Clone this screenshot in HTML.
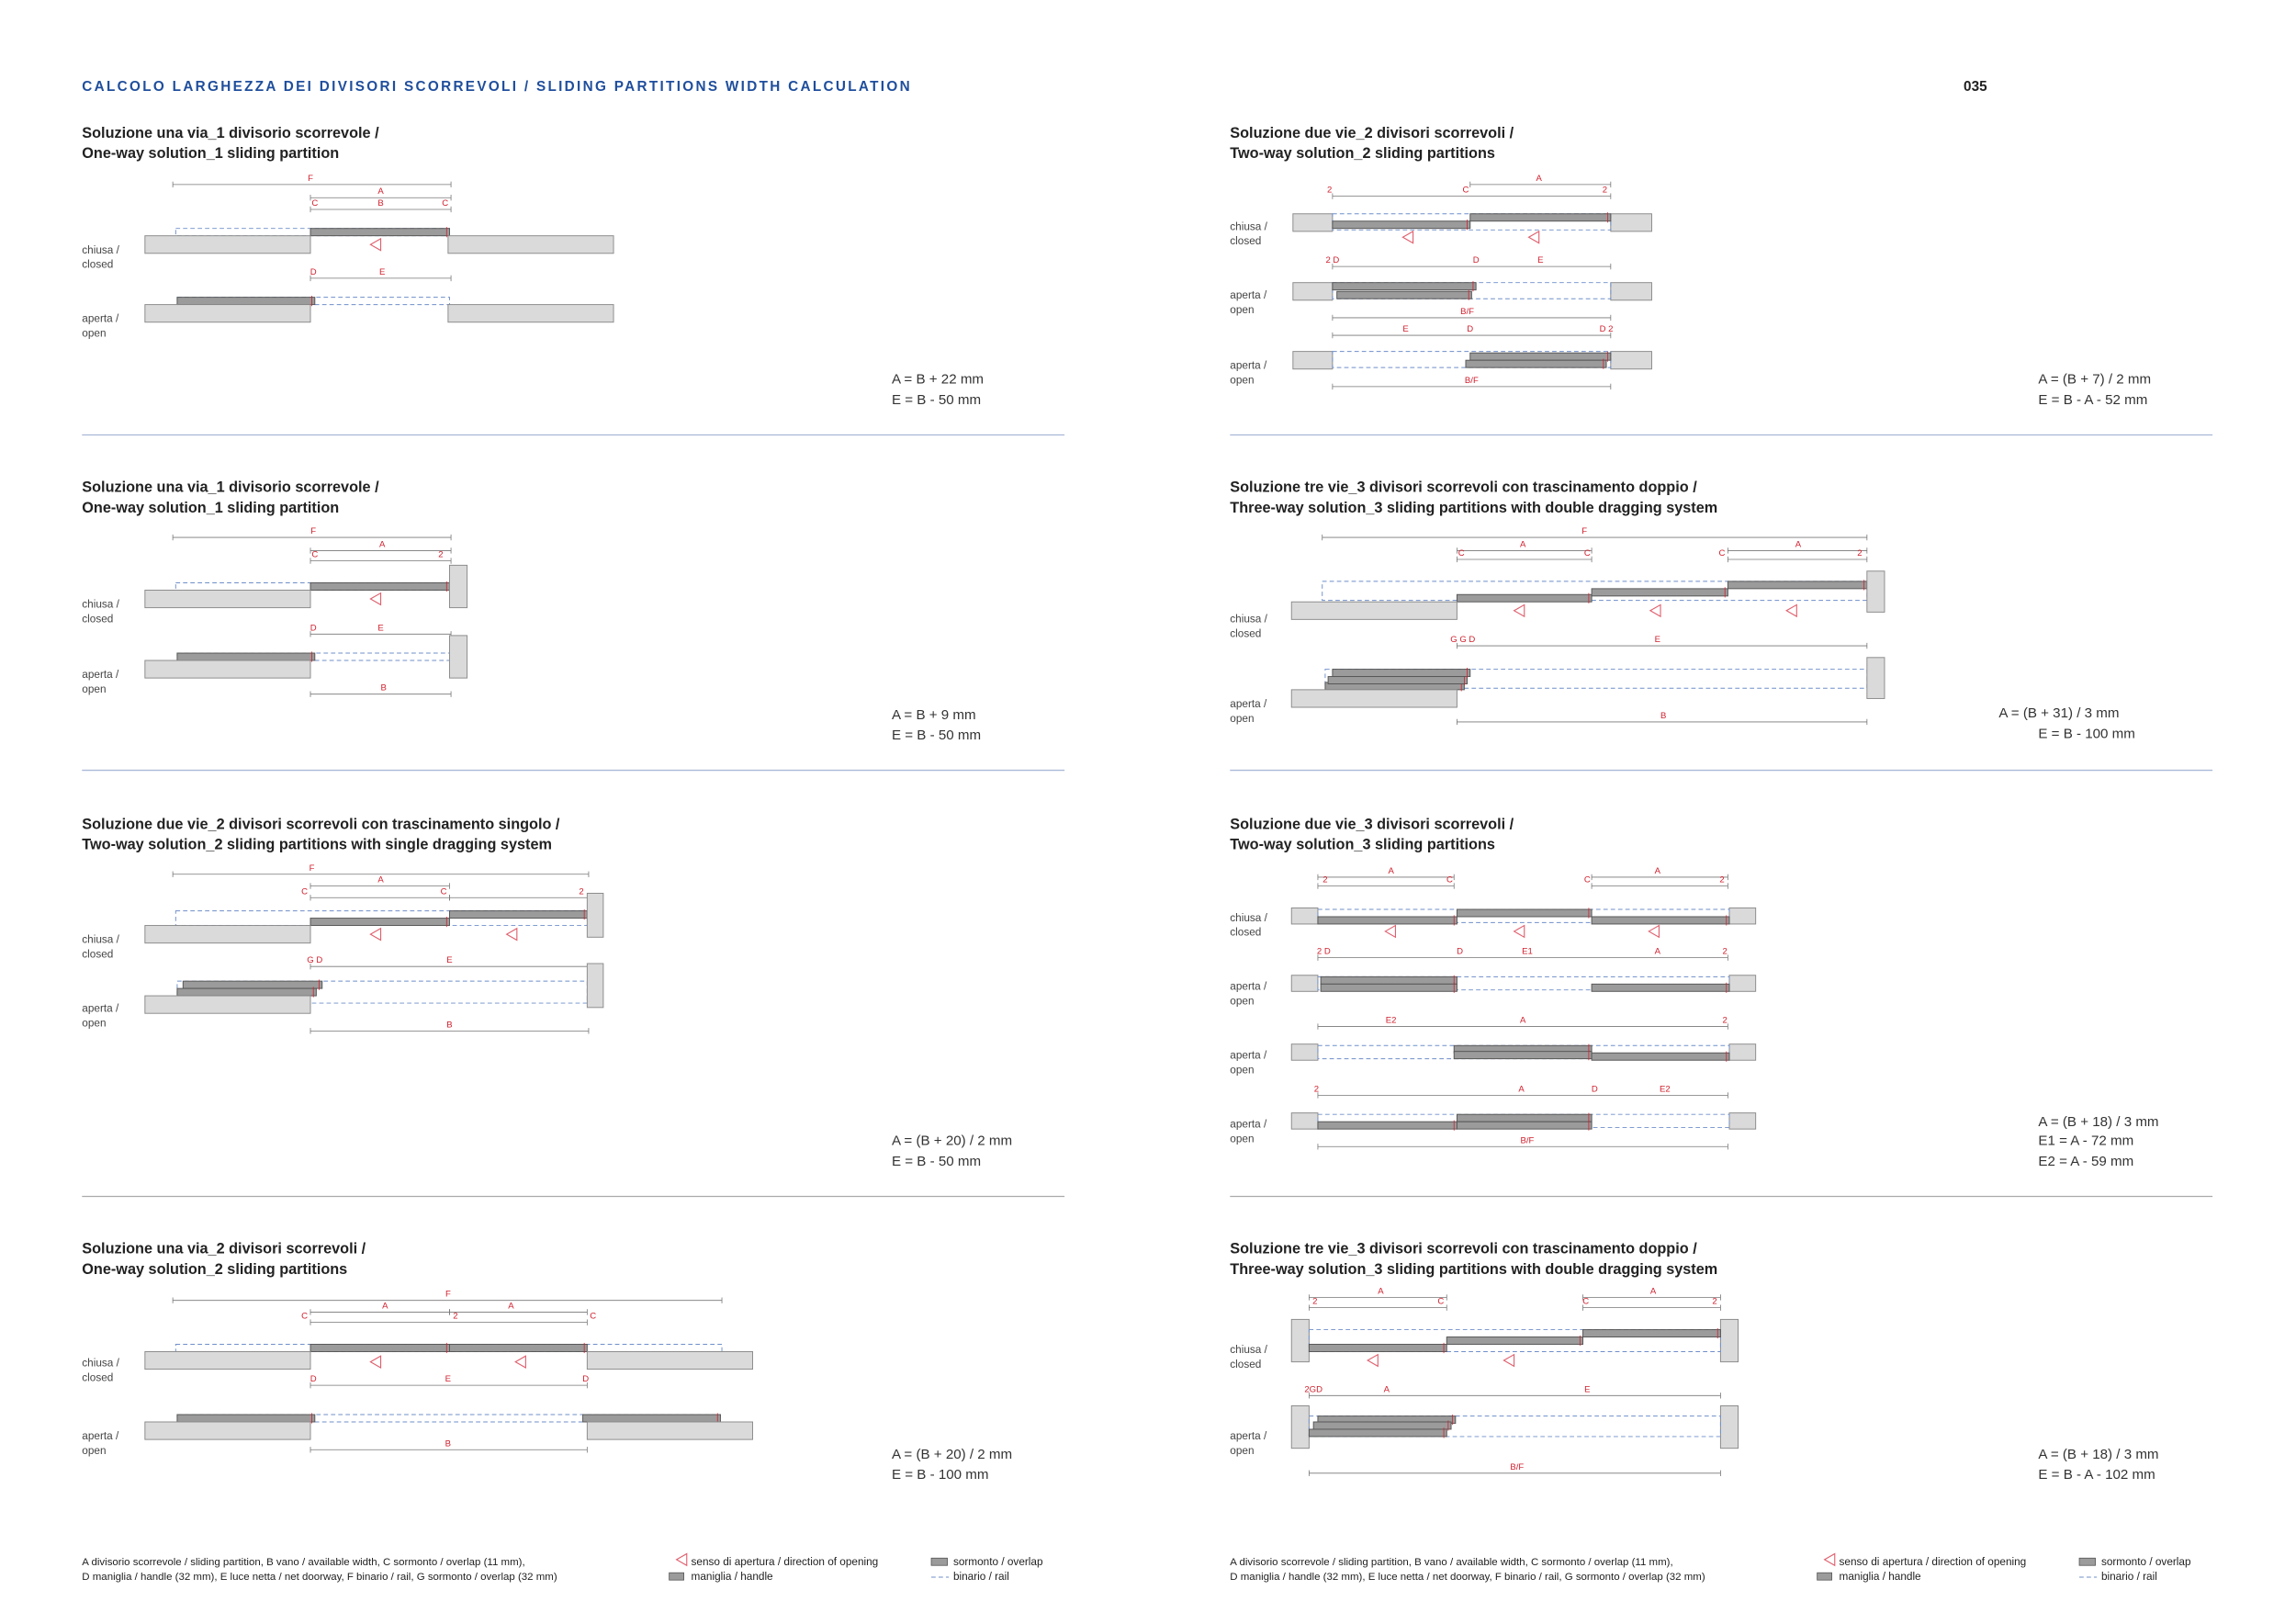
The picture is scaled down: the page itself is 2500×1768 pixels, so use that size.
<!DOCTYPE html>
<html><head><meta charset="utf-8">
<style>
html,body{margin:0;padding:0;background:#fff;}
svg{display:block;font-family:"Liberation Sans",sans-serif;}
.ti{font-size:10.2px;font-weight:bold;fill:#222;}
.lb{font-size:7.4px;fill:#444;}
.dl{font-size:6px;fill:#d0202e;}
.fm{font-size:9.5px;fill:#333;}
.ft{font-size:7.2px;fill:#222;}
.ft2{font-size:7.4px;fill:#222;}
</style></head>
<body>
<svg id="pg" width="2500" height="1768" viewBox="0 0 1568 1109" preserveAspectRatio="none" xmlns="http://www.w3.org/2000/svg">
<text x="56" y="62" style="font-size:9.6px;font-weight:bold;fill:#1f4e9c;letter-spacing:1.45px">CALCOLO LARGHEZZA DEI DIVISORI SCORREVOLI / SLIDING PARTITIONS WIDTH CALCULATION</text>
<text x="1341" y="62" style="font-size:9.6px;font-weight:bold;fill:#222">035</text>
<g id="root"></g>
</svg>
<script>
const NS="http://www.w3.org/2000/svg";
const root=document.getElementById('root');
function el(tag,attrs,name,txt){const e=document.createElementNS(NS,tag);for(const k in attrs)e.setAttribute(k,attrs[k]);


if(txt!==undefined)e.textContent=txt;root.appendChild(e);return e;}
function W(x,y,w,h){el('rect',{x:x,y:y,width:w,height:h,fill:'#dadada',stroke:'#8a8a8a','stroke-width':0.6},'wall');}
function P(x,y,w,h){h=h||5;el('rect',{x:x,y:y,width:w,height:h,fill:'#9b9b9b',stroke:'#555','stroke-width':0.6},'partition-panel');
el('line',{x1:x+w-2,y1:y-1,x2:x+w-2,y2:y+h+1,stroke:'#d0202e','stroke-width':0.5},'handle-mark');}
function R(x,y,w,h){el('rect',{x:x,y:y,width:w,height:h,fill:'none',stroke:'#6f8fca','stroke-width':0.6,'stroke-dasharray':'3 2'},'rail');}
function D(x1,x2,y,labels){el('line',{x1:x1,y1:y,x2:x2,y2:y,stroke:'#777','stroke-width':0.5},'dimension-line');
[x1,x2].forEach(x=>el('line',{x1:x,y1:y-2,x2:x,y2:y+2,stroke:'#777','stroke-width':0.5},'dimension-tick'));
(labels||[]).forEach(l=>el('text',{x:l[0],y:y-2.5,class:'dl','text-anchor':'middle'},'dimension-label',l[1]));}
function A(x,y){el('polygon',{points:(x-4)+','+y+' '+(x+3)+','+(y-4)+' '+(x+3)+','+(y+4),fill:'none',stroke:'#e0606e','stroke-width':0.7},'opening-direction-arrow');}
function T(x,y,t,c){el('text',{x:x,y:y,class:c},c==='ti'?'section-title':(c==='fm'?'formula':'state-label'),t);}
function S(x,y,a,b){T(x,y,a,'lb');T(x,y+10,b,'lb');}
function Hr(x1,x2,y,c){el('line',{x1:x1,y1:y,x2:x2,y2:y,stroke:c,'stroke-width':0.8},'section-divider');}

[[297,'#a9b8d8'],[526,'#a9b8d8'],[817,'#aaa']].forEach(d=>{Hr(56,727,d[0],d[1]);Hr(840,1511,d[0],d[1]);});

// ===== Left 1
T(56,94,'Soluzione una via_1 divisorio scorrevole /','ti');T(56,108,'One-way solution_1 sliding partition','ti');
D(118,308,126,[[212,'F']]);D(212,308,135,[[260,'A']]);D(212,308,143,[[215,'C'],[260,'B'],[304,'C']]);
R(120,156,187,5);P(212,156,95);W(99,161,113,12);W(306,161,113,12);A(257,167);S(56,173,'chiusa /','closed');
D(212,308,190,[[214,'D'],[261,'E']]);R(121,203,186,5);P(121,203,94);W(99,208,113,12);W(306,208,113,12);S(56,220,'aperta /','open');
T(609,262,'A = B + 22 mm','fm');T(609,276,'E = B - 50 mm','fm');

// ===== Left 2
T(56,336,'Soluzione una via_1 divisorio scorrevole /','ti');T(56,350,'One-way solution_1 sliding partition','ti');
D(118,308,367,[[214,'F']]);D(212,308,376,[[261,'A']]);D(212,308,383,[[215,'C'],[301,'2']]);
R(120,398,187,5);P(212,398,95);W(99,403,113,12);W(307,386,12,29);A(257,409);S(56,415,'chiusa /','closed');
D(212,308,433,[[214,'D'],[260,'E']]);R(121,446,186,5);P(121,446,94);W(99,451,113,12);W(307,434,12,29);D(212,308,474,[[262,'B']]);S(56,463,'aperta /','open');
T(609,491,'A = B + 9 mm','fm');T(609,505,'E = B - 50 mm','fm');

// ===== Left 3
T(56,566,'Soluzione due vie_2 divisori scorrevoli con trascinamento singolo /','ti');T(56,580,'Two-way solution_2 sliding partitions with single dragging system','ti');
D(118,402,597,[[213,'F']]);D(212,307,605,[[260,'A']]);D(212,307,613,[[208,'C'],[303,'C'],[397,'2']]);D(307,402,613,[]);
R(120,622,281,10);P(212,627,95);P(307,622,94);W(99,632,113,12);W(401,610,11,30);A(257,638);A(350,638);S(56,644,'chiusa /','closed');
D(212,402,660,[[215,'G D'],[307,'E']]);R(121,670,280,15);P(125,670,95);P(121,675,95);W(99,680,113,12);W(401,658,11,30);D(212,402,704,[[307,'B']]);S(56,691,'aperta /','open');
T(609,782,'A = (B + 20) / 2 mm','fm');T(609,796,'E = B - 50 mm','fm');

// ===== Left 4
T(56,856,'Soluzione una via_2 divisori scorrevoli /','ti');T(56,870,'One-way solution_2 sliding partitions','ti');
D(118,493,888,[[306,'F']]);D(212,307,896,[[263,'A']]);D(307,401,896,[[349,'A']]);D(212,401,903,[[208,'C'],[311,'2'],[405,'C']]);
R(120,918,373,5);P(212,918,95);P(307,918,94);W(99,923,113,12);W(401,923,113,12);A(257,930);A(356,930);S(56,933,'chiusa /','closed');
D(212,401,946,[[214,'D'],[306,'E'],[400,'D']]);R(121,966,371,5);P(121,966,94);P(398,966,94);W(99,971,113,12);W(401,971,113,12);D(212,401,990,[[306,'B']]);S(56,983,'aperta /','open');
T(609,996,'A = (B + 20) / 2 mm','fm');T(609,1010,'E = B - 100 mm','fm');

// ===== Right 1
T(840,94,'Soluzione due vie_2 divisori scorrevoli /','ti');T(840,108,'Two-way solution_2 sliding partitions','ti');
D(1004,1100,126,[[1051,'A']]);D(910,1100,134,[[908,'2'],[1001,'C'],[1096,'2']]);
W(883,146,27,12);W(1100,146,28,12);R(910,146,190,11);P(910,151,94);P(1004,146,96);A(962,162);A(1048,162);S(840,157,'chiusa /','closed');
D(910,1100,182,[[910,'2 D'],[1008,'D'],[1052,'E']]);W(883,193,27,12);W(1100,193,28,12);R(910,193,190,11);P(910,193,98);P(913,199,92);
D(910,1100,217,[[1002,'B/F']]);S(840,204,'aperta /','open');
D(910,1100,229,[[960,'E'],[1004,'D'],[1097,'D 2']]);W(883,240,27,12);W(1100,240,28,12);R(910,240,190,11);P(1004,241,96);P(1001,246,96);
D(910,1100,264,[[1005,'B/F']]);S(840,252,'aperta /','open');
T(1392,262,'A = (B + 7) / 2 mm','fm');T(1392,276,'E = B - A - 52 mm','fm');

// ===== Right 2
T(840,336,'Soluzione tre vie_3 divisori scorrevoli con trascinamento doppio /','ti');T(840,350,'Three-way solution_3 sliding partitions with double dragging system','ti');
D(903,1275,367,[[1082,'F']]);D(995,1087,376,[[1040,'A']]);D(1180,1275,376,[[1228,'A']]);D(995,1087,382,[[998,'C'],[1084,'C']]);D(1180,1275,382,[[1176,'C'],[1270,'2']]);
R(903,397,372,13);P(995,406,92);P(1087,402,93);P(1180,397,95);W(882,411,113,12);W(1275,390,12,28);A(1038,417);A(1131,417);A(1224,417);S(840,425,'chiusa /','closed');
D(995,1275,441,[[999,'G G D'],[1132,'E']]);R(905,457,370,13);P(905,466,95);P(907,462,95);P(910,457,94);W(882,471,113,12);W(1275,449,12,28);D(995,1275,493,[[1136,'B']]);S(840,483,'aperta /','open');
T(1365,490,'A = (B + 31) / 3 mm','fm');T(1392,504,'E = B - 100 mm','fm');

// ===== Right 3
T(840,566,'Soluzione due vie_3 divisori scorrevoli /','ti');T(840,580,'Two-way solution_3 sliding partitions','ti');
D(900,993,599,[[950,'A']]);D(1087,1180,599,[[1132,'A']]);D(900,993,605,[[905,'2'],[990,'C']]);D(1087,1180,605,[[1084,'C'],[1176,'2']]);
W(882,620,18,11);W(1181,620,18,11);R(900,621,281,9);P(900,626,95);P(995,621,92);P(1087,626,94);A(950,636);A(1038,636);A(1130,636);S(840,629,'chiusa /','closed');
D(900,1180,654,[[904,'2 D'],[997,'D'],[1043,'E1'],[1132,'A'],[1178,'2']]);W(882,666,18,11);W(1181,666,18,11);R(900,667,281,9);P(902,667,93);P(902,672,93);P(1087,672,94);S(840,676,'aperta /','open');
D(900,1180,701,[[950,'E2'],[1040,'A'],[1178,'2']]);W(882,713,18,11);W(1181,713,18,11);R(900,714,281,9);P(993,714,94);P(993,718,94);P(1087,719,94);S(840,723,'aperta /','open');
D(900,1180,748,[[899,'2'],[1039,'A'],[1089,'D'],[1137,'E2']]);W(882,760,18,11);W(1181,760,18,11);R(900,761,281,9);P(900,766,95);P(995,761,92);P(995,766,92);
D(900,1180,783,[[1043,'B/F']]);S(840,770,'aperta /','open');
T(1392,769,'A = (B + 18) / 3 mm','fm');T(1392,782,'E1 = A - 72 mm','fm');T(1392,796,'E2 = A - 59 mm','fm');

// ===== Right 4
T(840,856,'Soluzione tre vie_3 divisori scorrevoli con trascinamento doppio /','ti');T(840,870,'Three-way solution_3 sliding partitions with double dragging system','ti');
D(894,988,886,[[943,'A']]);D(1081,1175,886,[[1129,'A']]);D(894,988,893,[[898,'2'],[984,'C']]);D(1081,1175,893,[[1083,'C'],[1171,'2']]);
W(882,901,12,29);W(1175,901,12,29);R(894,908,281,15);P(894,918,94);P(988,913,93);P(1081,908,94);A(938,929);A(1031,929);S(840,924,'chiusa /','closed');
D(894,1175,953,[[897,'2GD'],[947,'A'],[1084,'E']]);W(882,960,12,29);W(1175,960,12,29);R(894,967,281,14);P(900,967,94);P(897,971,94);P(894,976,94);
D(894,1175,1006,[[1036,'B/F']]);S(840,983,'aperta /','open');
T(1392,996,'A = (B + 18) / 3 mm','fm');T(1392,1010,'E = B - A - 102 mm','fm');

// ===== Footers
[56,840].forEach(ox=>{
 el('text',{x:ox,y:1069,class:'ft'},'footnote-line-1','A divisorio scorrevole / sliding partition, B vano / available width, C sormonto / overlap (11 mm),');
 el('text',{x:ox,y:1079,class:'ft'},'footnote-line-2','D maniglia / handle (32 mm), E luce netta / net doorway, F binario / rail, G sormonto / overlap (32 mm)');
 A(ox+410,1065);
 el('text',{x:ox+416,y:1069,class:'ft2'},'legend-direction','senso di apertura / direction of opening');
 el('rect',{x:ox+401,y:1074,width:10,height:5,fill:'#9b9b9b',stroke:'#555','stroke-width':0.5},'legend-handle-swatch');
 el('text',{x:ox+416,y:1079,class:'ft2'},'legend-handle','maniglia / handle');
 el('rect',{x:ox+580,y:1064,width:11,height:5,fill:'#9b9b9b',stroke:'#555','stroke-width':0.5},'legend-overlap-swatch');
 el('text',{x:ox+595,y:1069,class:'ft2'},'legend-overlap','sormonto / overlap');
 el('line',{x1:ox+580,y1:1077,x2:ox+592,y2:1077,stroke:'#6f8fca','stroke-width':0.6,'stroke-dasharray':'3 2'},'legend-rail-swatch');
 el('text',{x:ox+595,y:1079,class:'ft2'},'legend-rail','binario / rail');
});
</script>
</body></html>
